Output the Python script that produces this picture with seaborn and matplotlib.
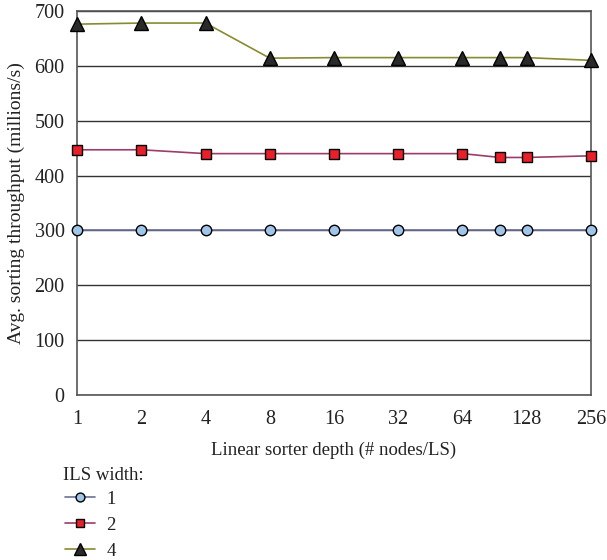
import numpy as np
import pandas as pd
import seaborn as sns
import matplotlib.pyplot as plt

# linear sorter depth (# nodes/LS), incl. the extra point near 96
depth = [1, 2, 4, 8, 16, 32, 64, 96, 128, 256]
tick_labels = ["1", "2", "4", "8", "16", "32", "64", "128", "256"]
tick_pos = [1, 2, 4, 8, 16, 32, 64, 128, 256]

# avg. sorting throughput (millions/s) per ILS width
width_1 = [301, 301, 301, 301, 301, 301, 301, 301, 301, 301]
width_2 = [447, 447, 440, 440, 440, 440, 440, 433, 433, 436]
width_4 = [676, 678, 678, 614, 615, 615, 615, 615, 615, 610]

widths = ["1", "2", "4"]
line_colors = ["#6c6f9c", "#9c3c6c", "#8a8a30"]
face_colors = ["#9fc5e8", "#e8202a", "#2a2a2a"]
markers = ["o", "s", "^"]
msizes = [7.5, 7.5, 9.5]

df = pd.DataFrame({
    "depth": depth * 3,
    "throughput": width_1 + width_2 + width_4,
    "width": sum([[w] * len(depth) for w in widths], []),
})

sns.set_style("white")
plt.rcParams["font.family"] = ["Liberation Serif", "DejaVu Serif"]

fig = plt.figure(figsize=(6.07, 5.6), dpi=100)
ax = fig.add_axes([0.1269, 0.2946, 0.8467, 0.6858])

for w, lc, fc, m, ms in zip(widths, line_colors, face_colors, markers, msizes):
    sub = df[df["width"] == w]
    sns.lineplot(data=sub, x="depth", y="throughput", ax=ax, color=lc,
                 linewidth=1.2, marker=m, markersize=ms, markerfacecolor=fc,
                 markeredgecolor="black", markeredgewidth=1.0, label=w,
                 clip_on=False, zorder=3)

ax.set_xscale("log", base=2)
ax.set_xlim(1, 256)
ax.set_ylim(0, 700)
ax.set_xticks(tick_pos)
ax.set_xticklabels(tick_labels)
ax.minorticks_off()
ax.set_yticks(np.arange(0, 701, 100))
ax.tick_params(axis="both", length=0, labelsize=14.5, colors="#222222")
ax.tick_params(axis="x", pad=11)
ax.tick_params(axis="y", pad=9)

ax.yaxis.grid(True, color="#333333", linewidth=1.0)
ax.set_axisbelow(True)
for s in ax.spines.values():
    s.set_color("#555555")
    s.set_linewidth(1.2)

ax.set_xlabel("Linear sorter depth (# nodes/LS)", fontsize=13.5, labelpad=9, color="#222222")
ax.set_ylabel("Avg. sorting throughput (millions/s)", fontsize=14, labelpad=7, color="#222222")

# legend below the plot, title drawn separately
handles, labels = ax.get_legend_handles_labels()
ax.get_legend().remove()
fig.text(0.104, 1 - 475 / 560, "ILS width:", fontsize=13.5, va="center", ha="left", color="#222222")
leg = fig.legend(handles, labels, loc="upper left",
                 bbox_to_anchor=(0.092, 1 - 481 / 560), frameon=False, fontsize=13.5,
                 handlelength=1.6, labelspacing=0.48,
                 borderpad=0, handletextpad=0.6, markerscale=0.85)
for t in leg.get_texts():
    t.set_color("#222222")

fig.savefig("out.png", dpi=100)
